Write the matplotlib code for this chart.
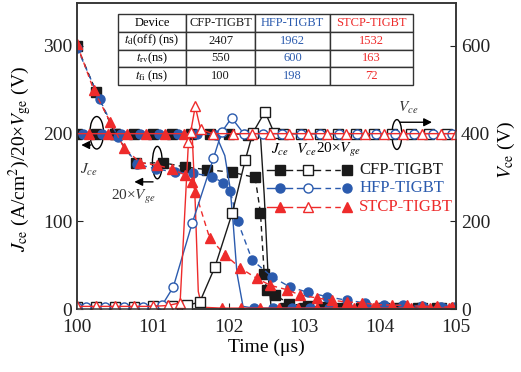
import matplotlib.pyplot as plt
from matplotlib.patches import Ellipse
from matplotlib.lines import Line2D

plt.rcParams['font.family'] = ['Liberation Serif', 'DejaVu Serif']
plt.rcParams['mathtext.fontset'] = 'stix'

devices = ['CFP-TIGBT', 'HFP-TIGBT', 'STCP-TIGBT']
colors = ['#1a1a1a', '#2B5BAE', '#EE2B2B']
markers = ['s', 'o', '^']

# Jce (A/cm^2), left axis
jce_t = [
    [100.0, 100.25, 100.5, 100.75, 101.0, 101.25, 101.5, 101.75, 102.0, 102.25,
     102.42, 102.47, 102.52, 102.56, 102.75, 103.0, 103.25, 103.5, 103.75, 104.0,
     104.25, 104.5, 104.75, 105.0],
    [100.0, 100.08, 100.33, 100.58, 100.83, 101.08, 101.33, 101.58, 101.83, 101.95,
     102.02, 102.06, 102.11, 102.19, 102.33, 102.58, 102.83, 103.08, 103.33, 103.58,
     103.83, 104.08, 104.33, 104.58, 104.83, 105.0],
    [100.0, 100.16, 100.41, 100.66, 100.91, 101.16, 101.41, 101.52, 101.56, 101.6,
     101.65, 101.91, 102.16, 102.41, 102.66, 102.91, 103.16, 103.41, 103.66, 103.91,
     104.16, 104.41, 104.66, 104.91, 105.0],
]
jce_v = [
    [200, 200, 200, 200, 200, 200, 200, 200, 200, 199,
     198, 130, 40, 3, 1, 1, 1, 1, 1, 1, 1, 1, 1, 1],
    [200, 200, 200, 200, 200, 200, 200, 200, 199, 175,
     138, 98, 41, 3, 1, 1, 1, 1, 1, 1, 1, 1, 1, 1, 1, 1],
    [200, 200, 200, 200, 200, 200, 200, 198, 120, 20,
     2, 1, 1, 1, 1, 1, 1, 1, 1, 1, 1, 1, 1, 1, 1],
]
jce_offset = [0.0, 0.08, 0.16]

# Vce (V), right axis
vce_t = [
    [100.0, 100.25, 100.5, 100.75, 101.0, 101.25, 101.45, 101.62, 101.82, 102.05,
     102.22, 102.32, 102.48, 102.6, 102.72, 102.96, 103.2, 103.44, 103.68, 103.92,
     104.16, 104.4, 104.64, 104.88],
    [100.0, 100.12, 100.37, 100.62, 100.87, 101.12, 101.27, 101.52, 101.8, 101.91,
     102.04, 102.2, 102.45, 102.7, 102.95, 103.2, 103.45, 103.7, 103.95, 104.2,
     104.45, 104.7, 104.95],
    [100.0, 100.25, 100.5, 100.75, 101.0, 101.2, 101.36, 101.47, 101.5, 101.56,
     101.63, 101.79, 102.06, 102.31, 102.55, 102.8, 103.05, 103.3, 103.55, 103.8,
     104.05, 104.3, 104.55, 104.8, 105.0],
]
vce_v = [
    [5, 5, 5, 5, 6, 7, 8, 16, 96, 220,
     340, 402, 450, 402, 400, 400, 400, 400, 400, 400, 400, 400, 400, 400],
    [5, 5, 5, 5, 5, 8, 50, 196, 344, 404,
     436, 400, 400, 400, 400, 400, 400, 400, 400, 400, 400, 400, 400],
    [6, 6, 6, 6, 6, 8, 14, 380, 404, 462,
     410, 400, 400, 400, 400, 400, 400, 400, 400, 400, 400, 400, 400, 400, 400],
]

# 20 x Vge (V), left axis
vge_t = [
    [100.0, 100.25, 100.5, 100.78, 101.13, 101.42, 101.71, 102.04, 102.35, 102.42,
     102.47, 102.5, 102.61, 102.8, 103.05, 103.3, 103.55, 103.8, 104.05, 104.3,
     104.55, 104.8, 105.0],
    [100.0, 100.3, 100.54, 100.79, 101.04, 101.29, 101.53, 101.78, 101.93, 102.02,
     102.12, 102.31, 102.57, 102.81, 103.05, 103.3, 103.56, 103.8, 104.05, 104.3,
     104.55, 104.8, 105.0],
    [100.0, 100.22, 100.44, 100.62, 100.83, 101.05, 101.25, 101.42, 101.52, 101.56,
     101.75, 101.95, 102.15, 102.37, 102.55, 102.77, 102.94, 103.17, 103.36, 103.56,
     103.76, 103.95, 104.15, 104.35, 104.55, 104.75, 104.95],
]
vge_v = [
    [300, 248, 200, 166, 167, 162, 159, 156, 150, 110,
     40, 22, 16, 6, 3, 2, 1, 1, 1, 1, 1, 1, 1],
    [298, 239, 196, 165, 160, 156, 155, 151, 144, 135,
     100, 56, 37, 25, 19, 14, 10, 7, 5, 4, 3, 2, 2],
    [302, 250, 213, 184, 167, 164, 160, 153, 145, 134,
     81, 62, 47, 35, 27, 22, 16, 12.5, 10, 8,
     7, 5, 4.5, 4, 3, 3, 2],
]

table_rows = [
    ['Device'] + devices,
    [r'$t_{\rm d}$(off) (ns)', '2407', '1962', '1532'],
    [r'$t_{\rm rv}$(ns)', '550', '600', '163'],
    [r'$t_{\rm fi}$ (ns)', '100', '198', '72'],
]

fig = plt.figure(figsize=(5.21, 3.72), dpi=100)
ax = fig.add_axes([77 / 521, 1 - 309 / 372, 379 / 521, 306 / 372])
ax2 = ax.twinx()

for i in range(3):
    c, m = colors[i], markers[i]
    ms = 7.5 if m == '^' else 6.5
    # markers only on the regular sampling grid for Jce
    marks = [k for k, t in enumerate(jce_t[i])
             if abs((t - jce_offset[i]) * 4 - round((t - jce_offset[i]) * 4)) < 1e-6
             and not (i > 0 and k == 0)]
    ax.plot(jce_t[i], jce_v[i], '-', color=c, lw=1, marker=m, ms=ms,
            mfc=c, mec=c, markevery=marks)
    ax.plot(vge_t[i], vge_v[i], '--', color=c, lw=1, marker=m, ms=ms,
            mfc=c, mec=c, dashes=(4, 3))
for i in range(3):
    c, m = colors[i], markers[i]
    ms = 7.5 if m == '^' else 6.5
    ax2.plot(vce_t[i], vce_v[i], '-', color=c, lw=1, marker=m, ms=ms,
             mfc='white', mec=c, mew=1)

ax.set_xlim(100, 105)
ax.set_ylim(0, 349)
ax2.set_ylim(0, 698)
ax.set_xticks([100, 101, 102, 103, 104, 105])
ax.set_yticks([0, 100, 200, 300])
ax2.set_yticks([0, 200, 400, 600])
ax.tick_params(direction='in', labelsize=14, length=4, colors='#222222')
ax.tick_params(axis='x', pad=7)
ax2.tick_params(direction='in', labelsize=14, length=4, colors='#222222')
for a in (ax, ax2):
    for s in a.spines.values():
        s.set_linewidth(1.1)
        s.set_color('#333333')

ax.set_xlabel('Time (μs)', fontsize=14, labelpad=2)
ax.set_ylabel(r'$J_{\rm ce}$ (A/cm$^2$)/20×$V_{\rm ge}$ (V)', fontsize=14)
ax.yaxis.set_label_coords(-0.113, 0.49)
ax2.set_ylabel(r'$V_{\rm ce}$ (V)', fontsize=14)
ax2.yaxis.set_label_coords(1.105, 0.52)

# table of switching times
tbl = ax2.table(cellText=table_rows, cellLoc='center',
                colWidths=[68, 69, 75, 83],
                bbox=[0.108, 0.732, 0.779, 0.232])
tbl.auto_set_font_size(False)
tbl.set_fontsize(9)
for (r, col), cell in tbl.get_celld().items():
    cell.set_edgecolor('#333333')
    cell.set_linewidth(1)
    if col > 0:
        cell.get_text().set_color(colors[col - 1])

# ellipses and arrows
ax.add_patch(Ellipse((100.26, 201), 0.18, 37, fill=False, lw=1, ec='k'))
ax.annotate('', xy=(100.02, 187), xytext=(100.22, 187),
            arrowprops=dict(arrowstyle='-|>', color='k', lw=1, mutation_scale=12))
ax.text(100.16, 159, r'$J_{ce}$', fontsize=11, ha='center', va='center', color='#333')

ax.add_patch(Ellipse((101.06, 167), 0.13, 37, fill=False, lw=1, ec='k'))
ax.annotate('', xy=(100.72, 145), xytext=(101.04, 145),
            arrowprops=dict(arrowstyle='-|>', color='k', lw=1, mutation_scale=12))
ax.text(100.74, 128, r'20×$V_{ge}$', fontsize=11, ha='center', va='center', color='#333')

ax.add_patch(Ellipse((104.22, 199), 0.13, 34, fill=False, lw=1, ec='k'))
ax.annotate('', xy=(104.72, 213), xytext=(104.22, 213),
            arrowprops=dict(arrowstyle='-|>', color='k', lw=1, mutation_scale=12))
ax.text(104.37, 229, r'$V_{ce}$', fontsize=11, ha='center', va='center', color='#333')

# hand-made legend
tr = ax2.transAxes
ax2.text(0.536, 0.52, r'$J_{ce}$', transform=tr, fontsize=11, ha='center', va='center')
ax2.text(0.605, 0.52, r'$V_{ce}$', transform=tr, fontsize=11, ha='center', va='center')
ax2.text(0.69, 0.52, r'20×$V_{ge}$', transform=tr, fontsize=11, ha='center', va='center')
for i, yy in enumerate([0.454, 0.395, 0.333]):
    c, m = colors[i], markers[i]
    ms = 7.5 if m == '^' else 6.5
    ax2.add_line(Line2D([0.501, 0.567], [yy, yy], transform=tr, color=c, lw=1))
    ax2.add_line(Line2D([0.536], [yy], transform=tr, marker=m, ms=ms, mfc=c, mec=c, ls=''))
    ax2.add_line(Line2D([0.580, 0.641], [yy, yy], transform=tr, color=c, lw=1))
    ax2.add_line(Line2D([0.610], [yy], transform=tr, marker=m, ms=ms, mfc='white', mec=c, ls=''))
    ax2.add_line(Line2D([0.654, 0.702], [yy, yy], transform=tr, color=c, lw=1, ls='--', dashes=(4, 3)))
    ax2.add_line(Line2D([0.712], [yy], transform=tr, marker=m, ms=ms, mfc=c, mec=c, ls=''))
    ax2.text(0.745, yy, devices[i], transform=tr, fontsize=12, color=c, ha='left', va='center')

fig.savefig('out.png', dpi=100)
